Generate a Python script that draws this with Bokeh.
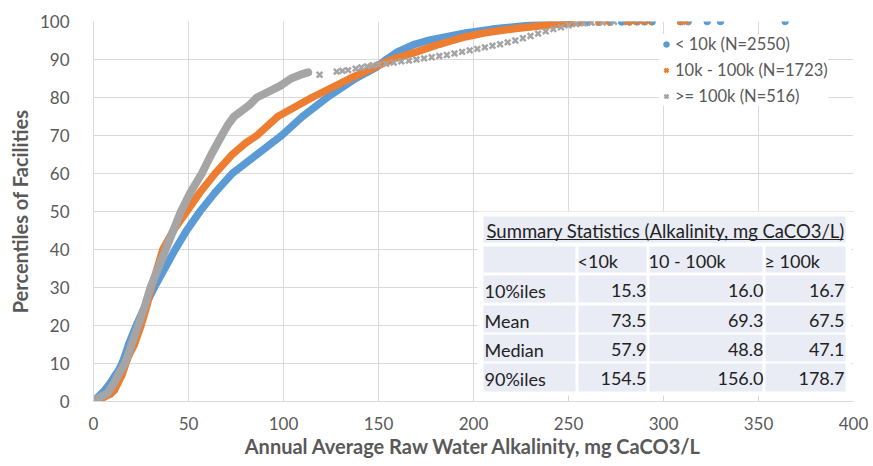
from bokeh.plotting import figure
from bokeh.models import Range1d, FixedTicker, Legend, LegendItem, ColumnDataSource
from bokeh.core.properties import value
from bokeh.embed import file_html
from bokeh.resources import INLINE

# ---------------- data ----------------
x_ticks = [0, 50, 100, 150, 200, 250, 300, 350, 400]
y_ticks = [0, 10, 20, 30, 40, 50, 60, 70, 80, 90, 100]

series_names = ["< 10k (N=2550)", "10k - 100k (N=1723)", ">= 100k (N=516)"]

# < 10k : percentile vs alkalinity (continuous band)
pct_small = [0, 1, 2, 3, 5, 7, 8, 10, 12, 15, 20, 25, 30, 35, 40, 45, 50, 55, 60,
             65, 70, 75, 80, 85, 88, 90, 92, 94, 95, 96, 97, 98, 99, 99.6]
alk_small = [0.5, 2, 4, 6, 9, 11.5, 13, 15, 16.5, 18.5, 22.5, 27, 32, 37.5, 43, 49, 56, 64, 73,
             86, 99, 110, 123, 138, 149, 154, 160, 169, 176, 186, 196, 210, 230, 250]
tail_small_x = [256, 260, 266, 272, 278, 282, 286, 290, 294, 309, 313, 323, 330, 364]
tail_small_y = [99.7, 99.75, 99.8, 99.8, 99.85, 99.85, 99.9, 99.9, 99.9, 99.95, 99.95, 99.97, 99.98, 100]

# 10k - 100k
pct_mid = [0, 1, 2, 3, 5, 7, 10, 12, 15, 20, 25, 30, 35, 40, 45, 50, 55, 60, 65, 68,
           70, 75, 80, 85, 88, 90, 92, 94, 95, 96, 97, 98, 99, 99.6]
alk_mid = [0, 5, 9, 11, 13, 15, 17, 18.5, 21.5, 25, 28, 30.5, 33.5, 36.5, 42, 49, 56, 64, 73, 80,
           86, 97, 115, 135, 148, 157, 170, 182, 189, 196, 206, 220, 238, 252]
tail_mid_x = [257, 262, 266, 270, 281, 284, 288, 292, 309, 312]
tail_mid_y = [99.7, 99.75, 99.8, 99.8, 99.85, 99.9, 99.9, 99.9, 99.95, 99.96]

# >= 100k
pct_large = [0, 1, 2, 3, 5, 7, 10, 12, 15, 20, 25, 30, 35, 40, 45, 50, 55, 60, 65, 70,
             73, 75, 78, 80, 83, 85, 86, 86.6]
alk_large = [0, 3, 7, 8.5, 11, 13, 16.5, 18, 20, 23.5, 27, 30, 34, 38, 42, 46, 51, 57, 62, 67.5,
             71, 74, 82, 86, 98, 104, 109, 113]
tail_large_x = [119, 128, 131, 134, 138, 141, 144, 147, 150, 154, 158, 162, 166, 170, 174, 178,
                182, 186, 190, 194, 198, 202, 206, 210, 214, 218, 222, 226, 230, 234, 238, 242,
                246, 250, 254, 258, 262, 268, 274]
tail_large_y = [86.0, 86.8, 87.0, 87.2, 87.6, 87.9, 88.2, 88.5, 88.7, 88.9, 89.2, 89.5, 89.7, 90.0,
                90.3, 90.6, 90.9, 91.2, 91.6, 92.0, 92.4, 92.8, 93.2, 93.6, 94.0, 94.5, 95.0, 95.6,
                96.2, 96.8, 97.4, 98.0, 98.5, 99.0, 99.3, 99.5, 99.7, 99.8, 99.9]

# summary table
tbl_title = "Summary Statistics (Alkalinity, mg CaCO3/L)"
tbl_cols = ["<10k", "10 - 100k", "\u2265 100k"]
tbl_rows = ["10%iles", "Mean", "Median", "90%iles"]
tbl_small = [15.3, 73.5, 57.9, 154.5]
tbl_mid = [16.0, 69.3, 48.8, 156.0]
tbl_large = [16.7, 67.5, 47.1, 178.7]

# ---------------- styling ----------------
BLUE, ORANGE, GRAY = "#5B9BD5", "#ED7D31", "#A5A5A5"
TXT = "#595959"
FONT = "Lato"
CELL = "#E9EBF5"
GRID = "#D9D9D9"
TICK_FS = "17px"

p = figure(width=868, height=462, x_range=Range1d(0, 400), y_range=Range1d(0, 100),
           output_backend="svg", toolbar_location=None,
           min_border_left=93, min_border_right=15, min_border_top=21, min_border_bottom=61)
p.outline_line_color = None
p.background_fill_color = "white"
p.border_fill_color = "white"

for ax, ticks in ((p.xaxis, x_ticks), (p.yaxis, y_ticks)):
    ax.ticker = FixedTicker(ticks=ticks)
    ax.major_tick_line_color = None
    ax.minor_tick_line_color = None
    ax.axis_line_color = GRID
    ax.major_label_text_font = FONT
    ax.major_label_text_font_size = TICK_FS
    ax.major_label_text_color = TXT
    ax.axis_label_text_font = FONT
    ax.axis_label_text_font_size = "20px"
    ax.axis_label_text_font_style = "bold"
    ax.axis_label_text_color = TXT

p.xaxis.axis_label = "Annual Average Raw Water Alkalinity, mg CaCO3/L"
p.yaxis.axis_label = "Percentiles of Facilities"
p.xaxis.major_label_standoff = 9
p.xaxis.axis_label_standoff = 1
p.yaxis.major_label_standoff = 18
p.yaxis.axis_label_standoff = 5

p.xgrid.grid_line_color = GRID
p.ygrid.grid_line_color = GRID

# ---------------- curves ----------------
src_s = ColumnDataSource(dict(x=alk_small, y=pct_small))
src_m = ColumnDataSource(dict(x=alk_mid, y=pct_mid))
src_l = ColumnDataSource(dict(x=alk_large, y=pct_large))

p.line("x", "y", source=src_s, color=BLUE, line_width=7.5, line_join="round", line_cap="round")
r_s = p.scatter("x", "y", source=src_s, marker="circle", size=6, color=BLUE)
p.scatter(tail_small_x, tail_small_y, marker="circle", size=6.5, color=BLUE)

p.line("x", "y", source=src_m, color=ORANGE, line_width=7.5, line_join="round", line_cap="round")
r_m = p.scatter("x", "y", source=src_m, marker="x", size=7, line_width=2.5, color=ORANGE)
p.scatter(tail_mid_x, tail_mid_y, marker="x", size=8, line_width=2.5, color=ORANGE)

p.line("x", "y", source=src_l, color=GRAY, line_width=8, line_join="round", line_cap="round")
r_l = p.scatter("x", "y", source=src_l, marker="x", size=7, line_width=2.5, color=GRAY)
p.scatter(tail_large_x, tail_large_y, marker="x", size=8, line_width=2.5, color=GRAY)

# ---------------- summary table (annotation, laid out in page pixels of the frame) ----------------
FL, FR, FT, FB = 93.0, 853.0, 22.0, 402.0

def dx(px):
    return (px - FL) * 400.0 / (FR - FL)

def dy(py):
    return (FB - py) * 100.0 / (FB - FT)

col_edges = [(483, 575), (578, 646), (649, 762), (765, 845)]
row_edges = [(247, 273), (276, 303), (306, 333), (335, 362), (364, 392)]

p.quad(left=[dx(477)], right=[dx(851)], top=[dy(212)], bottom=[dy(396)],
       fill_color="white", line_color=None)
L, R, T, B = [dx(483)], [dx(845)], [dy(217)], [dy(243)]
for (r0, r1) in row_edges:
    for (c0, c1) in col_edges:
        L.append(dx(c0)); R.append(dx(c1)); T.append(dy(r0)); B.append(dy(r1))
p.quad(left=L, right=R, top=T, bottom=B, fill_color=CELL, line_color=None)

p.text(x=[dx(486)], y=[dy(231)], text=[tbl_title], text_align="left", text_baseline="middle",
       text_font=value(FONT), text_font_size="18.5px", text_color="#222222")
p.segment(x0=[dx(486)], y0=[dy(240)], x1=[dx(843)], y1=[dy(240)], line_color="#222222", line_width=1)

tx, ty, tt, ta = [], [], [], []
for name, left in zip(tbl_cols, [577, 648, 764]):
    tx.append(dx(left)); ty.append(dy(261)); tt.append(name); ta.append("left")
row_y = [291, 321, 350, 379]
for i, rname in enumerate(tbl_rows):
    tx.append(dx(484)); ty.append(dy(row_y[i])); tt.append(rname); ta.append("left")
    for vals, right in ((tbl_small, 646), (tbl_mid, 763), (tbl_large, 844)):
        tx.append(dx(right)); ty.append(dy(row_y[i])); tt.append("%.1f" % vals[i]); ta.append("right")
p.text(x="x", y="y", text="t", text_align="a", source=ColumnDataSource(dict(x=tx, y=ty, t=tt, a=ta)),
       text_baseline="middle", text_font=value(FONT), text_font_size="18px", text_color="#222222")

# ---------------- legend ----------------
legend = Legend(items=[LegendItem(label=series_names[0], renderers=[r_s]),
                       LegendItem(label=series_names[1], renderers=[r_m]),
                       LegendItem(label=series_names[2], renderers=[r_l])],
                location=(566, 295), orientation="vertical",
                label_text_font=FONT, label_text_font_size="16.5px", label_text_color=TXT,
                glyph_width=14, glyph_height=20, label_height=20, label_standoff=2,
                spacing=6, padding=5, margin=0,
                background_fill_color="white", background_fill_alpha=1.0, border_line_color=None)
p.add_layout(legend)

open("out.html", "w").write(file_html(p, INLINE))
